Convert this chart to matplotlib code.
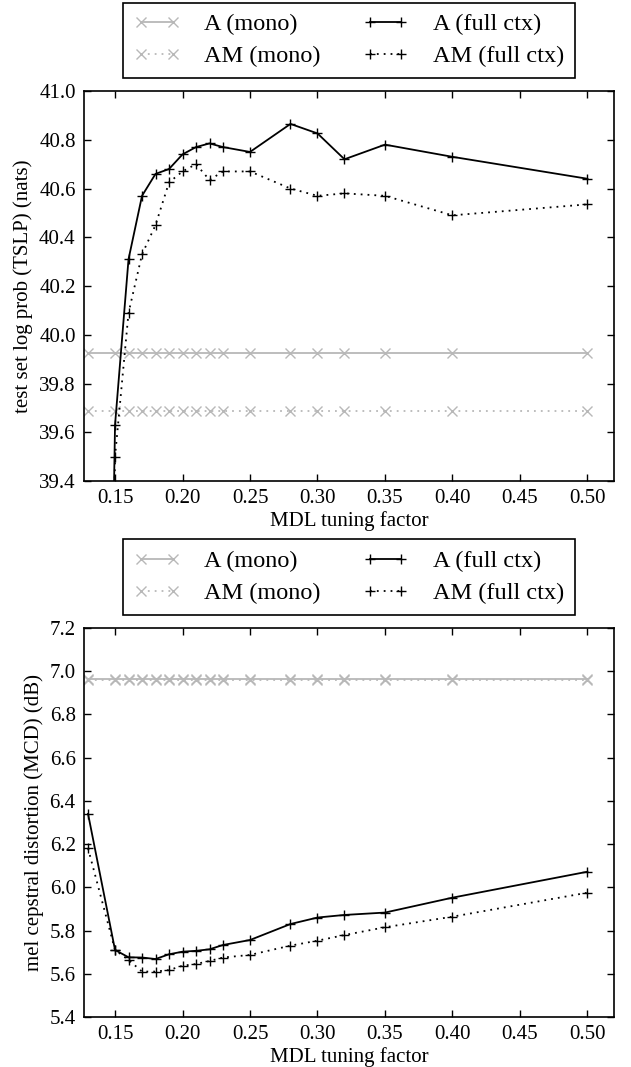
import matplotlib
matplotlib.use("Agg")
import matplotlib.pyplot as plt


MDL_FACTOR = [0.13, 0.15, 0.16, 0.17, 0.18, 0.19, 0.20, 0.21, 0.22, 0.23,
              0.25, 0.28, 0.30, 0.32, 0.35, 0.40, 0.50]

# test set log prob (nats)
TSLP_A_MONO = [39.925] * len(MDL_FACTOR)
TSLP_AM_MONO = [39.688] * len(MDL_FACTOR)
TSLP_A_FULL = [33.0, 39.63, 40.31, 40.57, 40.66, 40.68, 40.74, 40.77, 40.785, 40.77,
               40.75, 40.865, 40.826, 40.72, 40.78, 40.73, 40.64]
TSLP_AM_FULL = [32.5, 39.50, 40.09, 40.33, 40.45, 40.625, 40.67, 40.70, 40.635, 40.67,
                40.67, 40.60, 40.57, 40.58, 40.57, 40.49, 40.535]

# mel cepstral distortion (dB)
MCD_A_MONO = [6.965] * len(MDL_FACTOR)
MCD_AM_MONO = [6.958] * len(MDL_FACTOR)
MCD_A_FULL = [6.34, 5.71, 5.676, 5.675, 5.668, 5.69, 5.702, 5.706, 5.713, 5.733,
              5.756, 5.83, 5.86, 5.872, 5.883, 5.952, 6.072]
MCD_AM_FULL = [6.18, 5.71, 5.664, 5.61, 5.61, 5.617, 5.637, 5.645, 5.659, 5.675,
               5.687, 5.73, 5.753, 5.779, 5.815, 5.864, 5.975]

LABELS = ["A (mono)", "AM (mono)", "A (full ctx)", "AM (full ctx)"]

TSLP_TICKS = [39.4, 39.6, 39.8, 40.0, 40.2, 40.4, 40.6, 40.8, 41.0]
MCD_TICKS = [5.4, 5.6, 5.8, 6.0, 6.2, 6.4, 6.6, 6.8, 7.0, 7.2]
X_TICKS = [0.15, 0.20, 0.25, 0.30, 0.35, 0.40, 0.45, 0.50]

GREY = "#b8b8b8"
DOTTED = (0, (1, 2.8))

plt.rcParams["font.family"] = ["Liberation Serif", "DejaVu Serif"]
plt.rcParams["font.size"] = 15


def draw(ax, series, yticks, ylabel):
    styles = [
        dict(color=GREY, linestyle="-", marker="x"),
        dict(color=GREY, linestyle=DOTTED, marker="x"),
        dict(color="black", linestyle="-", marker="+"),
        dict(color="black", linestyle=DOTTED, marker="+"),
    ]
    for ys, label, st in zip(series, LABELS, styles):
        ax.plot(MDL_FACTOR, ys, label=label, linewidth=1.3, markersize=7,
                markeredgewidth=1.0, **st)

    ax.set_xlim(0.127, 0.5197)
    ax.set_ylim(yticks[0], yticks[-1])
    ax.set_xticks(X_TICKS)
    ax.set_xticklabels(["%.2f" % t for t in X_TICKS])
    ax.set_yticks(yticks)
    ax.set_yticklabels(["%.1f" % t for t in yticks])
    ax.tick_params(direction="in", length=5, width=1, top=True, right=True,
                   pad=6)
    for sp in ax.spines.values():
        sp.set_linewidth(1.2)
    ax.set_xlabel("MDL tuning factor", labelpad=2)
    ax.set_ylabel(ylabel, labelpad=4)

    leg = ax.legend(loc="lower center", bbox_to_anchor=(0.5, 1.033), ncol=2,
                    numpoints=2, fancybox=False, framealpha=1,
                    edgecolor="black", borderaxespad=0, handlelength=1.9,
                    columnspacing=1.7, borderpad=0.45, labelspacing=0.4,
                    handletextpad=1.0, fontsize=17.5)
    leg.get_frame().set_linewidth(1.2)


fig = plt.figure(figsize=(6.31, 10.67), dpi=100)
ax_top = fig.add_axes([0.1331, 0.5492, 0.840, 0.3655])
ax_bot = fig.add_axes([0.1331, 0.0469, 0.840, 0.3646])

draw(ax_top, [TSLP_A_MONO, TSLP_AM_MONO, TSLP_A_FULL, TSLP_AM_FULL],
     TSLP_TICKS, "test set log prob (TSLP) (nats)")
draw(ax_bot, [MCD_A_MONO, MCD_AM_MONO, MCD_A_FULL, MCD_AM_FULL],
     MCD_TICKS, "mel cepstral distortion (MCD) (dB)")

fig.savefig("out.png", dpi=100)
